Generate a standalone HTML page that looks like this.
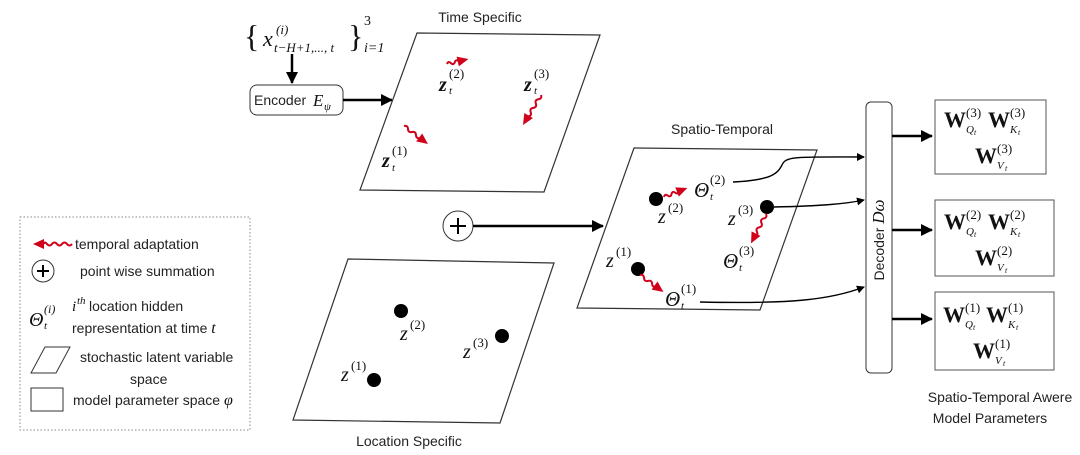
<!DOCTYPE html>
<html><head><meta charset="utf-8"><style>
html,body{margin:0;padding:0;background:#fff;}
svg{display:block;}
.s{font-family:"Liberation Sans",sans-serif;font-size:14px;fill:#222;}
.m{font-family:"Liberation Serif",serif;font-style:italic;fill:#111;}
.b{font-family:"Liberation Serif",serif;font-weight:bold;fill:#111;}
.bi{font-family:"Liberation Serif",serif;font-weight:bold;font-style:italic;fill:#111;}
.r{font-family:"Liberation Serif",serif;fill:#111;}
.w{stroke:#d0021b;stroke-width:2;fill:none;}
.h{fill:#d0021b;}
</style></head><body>
<svg width="1080" height="455" viewBox="0 0 1080 455" xmlns="http://www.w3.org/2000/svg">
<defs>
<marker id="ah" markerWidth="8" markerHeight="8" refX="7" refY="4" orient="auto" markerUnits="userSpaceOnUse"><path d="M0,0 L8,4 L0,8 z" fill="#000"/></marker>
<marker id="ahb" markerWidth="12" markerHeight="12" refX="11" refY="6" orient="auto" markerUnits="userSpaceOnUse"><path d="M0,0 L12,6 L0,12 z" fill="#000"/></marker>
</defs>

<!-- input -->
<text x="244" y="47" class="r" font-size="32">{</text>
<text x="263" y="46" class="m" font-size="22">x</text>
<text x="276" y="34" class="m" font-size="13">(i)</text>
<text x="274" y="52" class="m" font-size="13">t−H+1,..., t</text>
<text x="348" y="47" class="r" font-size="32">}</text>
<text x="364" y="25" class="r" font-size="14">3</text>
<text x="364" y="52" class="m" font-size="14">i=1</text>
<line x1="292" y1="54" x2="292" y2="83" stroke="#000" stroke-width="2.5" marker-end="url(#ahb)"/>
<rect x="250" y="85" width="93" height="30" rx="7" fill="#fff" stroke="#333" stroke-width="1"/>
<text x="254" y="105" class="s">Encoder</text>
<text x="313" y="106" class="m" font-size="17">E</text>
<text x="324" y="110" class="m" font-size="11">ψ</text>
<line x1="343" y1="100" x2="392" y2="100" stroke="#000" stroke-width="2.5" marker-end="url(#ahb)"/>

<!-- time specific -->
<text x="480" y="22" class="s" text-anchor="middle">Time Specific</text>
<polygon points="417,33 600,35 544,192 360,190" fill="#fff" stroke="#333" stroke-width="1.2"/>
<g transform="translate(447,64) rotate(-13)"><path class="w" d="M0,0 q2,-3 4,0 t4,0 t4,0"/><polygon class="h" points="11,-5 22,0 11,5"/></g>
<g transform="translate(541,95) rotate(121)"><path class="w" d="M0,0 q2.5,-3 5,0 t5,0 t5,0 t5,0 t5,0"/><polygon class="h" points="24,-5 35,0 24,5"/></g>
<g transform="translate(404,126) rotate(37)"><path class="w" d="M0,0 q2.5,-3 5,0 t5,0 t5,0 t5,0"/><polygon class="h" points="19,-5 30,0 19,5"/></g>
<text x="439" y="91" class="bi" font-size="20">z</text><text x="449" y="78" class="r" font-size="13">(2)</text><text x="449" y="94" class="m" font-size="11">t</text>
<text x="524" y="91" class="bi" font-size="20">z</text><text x="534" y="78" class="r" font-size="13">(3)</text><text x="534" y="94" class="m" font-size="11">t</text>
<text x="382" y="167" class="bi" font-size="20">z</text><text x="392" y="155" class="r" font-size="13">(1)</text><text x="392" y="171" class="m" font-size="11">t</text>

<!-- plus -->
<circle cx="458" cy="226" r="15" fill="#fff" stroke="#333" stroke-width="1"/>
<line x1="450" y1="226" x2="466" y2="226" stroke="#000" stroke-width="2"/>
<line x1="458" y1="218" x2="458" y2="234" stroke="#000" stroke-width="2"/>
<line x1="473" y1="226" x2="603" y2="226" stroke="#000" stroke-width="2.5" marker-end="url(#ahb)"/>

<!-- location specific -->
<polygon points="348,259 554,263 500,423 293,420" fill="#fff" stroke="#333" stroke-width="1.2"/>
<circle cx="401" cy="311" r="7" fill="#000"/>
<circle cx="502" cy="336" r="7" fill="#000"/>
<circle cx="374" cy="380" r="7" fill="#000"/>
<text x="400" y="340" class="m" font-size="20">z</text><text x="410" y="329" class="r" font-size="13">(2)</text>
<text x="463" y="358" class="m" font-size="20">z</text><text x="473" y="347" class="r" font-size="13">(3)</text>
<text x="341" y="381" class="m" font-size="20">z</text><text x="351" y="370" class="r" font-size="13">(1)</text>
<text x="409" y="446" class="s" text-anchor="middle">Location Specific</text>

<!-- legend -->
<rect x="20" y="217" width="230" height="213" fill="none" stroke="#888" stroke-width="1" stroke-dasharray="1.5,2"/>
<g transform="translate(72,244) rotate(180)"><path class="w" d="M0,0 q2.5,-3 5,0 t5,0 t5,0 t5,0 t5,0 t3,0"/><polygon class="h" points="28,-5 39,0 28,5"/></g>
<text x="75" y="249" class="s">temporal adaptation</text>
<circle cx="43" cy="271" r="11" fill="#fff" stroke="#333"/>
<line x1="37" y1="271" x2="49" y2="271" stroke="#000" stroke-width="2"/>
<line x1="43" y1="265" x2="43" y2="277" stroke="#000" stroke-width="2"/>
<text x="80" y="276" class="s">point wise summation</text>
<text x="29" y="326" class="m" font-size="20">Θ</text><text x="44" y="313" class="m" font-size="12">(i)</text><text x="44" y="329" class="m" font-size="11">t</text>
<text x="72" y="311" class="m" font-size="15">i</text><text x="77" y="304" class="m" font-size="11">th</text>
<text x="89" y="311" class="s">location hidden</text>
<text x="72" y="333" class="s">representation at time <tspan class="m" font-size="16">t</tspan></text>
<polygon points="45,347 70,347 56,373 31,373" fill="#fff" stroke="#333"/>
<text x="80" y="362" class="s">stochastic latent variable</text>
<text x="130" y="384" class="s">space</text>
<rect x="31" y="388" width="32" height="23" fill="#fff" stroke="#333"/>
<text x="73" y="405" class="s">model parameter space <tspan class="m" font-size="16">φ</tspan></text>

<!-- spatio-temporal -->
<text x="722" y="134" class="s" text-anchor="middle">Spatio-Temporal</text>
<polygon points="634,148 817,150 760,310 577,308" fill="#fff" stroke="#333" stroke-width="1.2"/>
<circle cx="656" cy="199" r="7" fill="#000"/>
<circle cx="767" cy="207" r="7" fill="#000"/>
<circle cx="638" cy="269" r="7" fill="#000"/>
<g transform="translate(664,197) rotate(-21)"><path class="w" d="M0,0 q2,-3 4,0 t4,0 t4,0 t3,0"/><polygon class="h" points="14,-5 25,0 14,5"/></g>
<g transform="translate(766,214) rotate(117)"><path class="w" d="M0,0 q2.5,-3 5,0 t5,0 t5,0 t5,0 t3,0"/><polygon class="h" points="22,-5 33,0 22,5"/></g>
<g transform="translate(640,275) rotate(36)"><path class="w" d="M0,0 q2.5,-3 5,0 t5,0 t5,0 t4,0"/><polygon class="h" points="18,-5 29,0 18,5"/></g>
<text x="694" y="197" class="m" font-size="21">Θ</text><text x="710" y="184" class="r" font-size="13">(2)</text><text x="710" y="200" class="m" font-size="11">t</text>
<text x="658" y="223" class="m" font-size="20">z</text><text x="668" y="212" class="r" font-size="13">(2)</text>
<text x="728" y="225" class="m" font-size="20">z</text><text x="738" y="214" class="r" font-size="13">(3)</text>
<text x="723" y="268" class="m" font-size="21">Θ</text><text x="739" y="255" class="r" font-size="13">(3)</text><text x="739" y="271" class="m" font-size="11">t</text>
<text x="606" y="267" class="m" font-size="20">z</text><text x="616" y="256" class="r" font-size="13">(1)</text>
<text x="665" y="306" class="m" font-size="21">Θ</text><text x="681" y="293" class="r" font-size="13">(1)</text><text x="681" y="309" class="m" font-size="11">t</text>

<path d="M733,182 C775,180 778,172 782,165 C786,156 795,157 864,157" stroke="#000" stroke-width="1.4" fill="none" marker-end="url(#ah)"/>
<path d="M774,207 C820,206 845,204 864,200" stroke="#000" stroke-width="1.4" fill="none" marker-end="url(#ah)"/>
<path d="M700,302 C790,304 830,300 864,287" stroke="#000" stroke-width="1.4" fill="none" marker-end="url(#ah)"/>

<!-- decoder -->
<rect x="866" y="102" width="26" height="271" rx="5" fill="#fff" stroke="#333" stroke-width="1"/>
<text transform="translate(884,240) rotate(-90)" class="s" text-anchor="middle">Decoder <tspan class="m" font-size="17">Dω</tspan></text>
<line x1="892" y1="136" x2="932" y2="136" stroke="#000" stroke-width="2.5" marker-end="url(#ahb)"/>
<line x1="892" y1="230" x2="932" y2="230" stroke="#000" stroke-width="2.5" marker-end="url(#ahb)"/>
<line x1="892" y1="319" x2="932" y2="319" stroke="#000" stroke-width="2.5" marker-end="url(#ahb)"/>

<!-- output boxes -->
<g>
<rect x="935" y="100" width="111" height="74" fill="#fff" stroke="#555"/>
<text x="944" y="127" class="b" font-size="22">W</text><text x="966" y="117" class="r" font-size="13">(3)</text><text x="966" y="133" class="m" font-size="11">Q</text><text x="974" y="135" class="m" font-size="8">t</text>
<text x="988" y="127" class="b" font-size="22">W</text><text x="1010" y="117" class="r" font-size="13">(3)</text><text x="1010" y="133" class="m" font-size="11">K</text><text x="1018" y="135" class="m" font-size="8">t</text>
<text x="975" y="163" class="b" font-size="22">W</text><text x="997" y="153" class="r" font-size="13">(3)</text><text x="997" y="169" class="m" font-size="11">V</text><text x="1005" y="171" class="m" font-size="8">t</text>
</g>
<g>
<rect x="935" y="200" width="119" height="76" fill="#fff" stroke="#555"/>
<text x="944" y="229" class="b" font-size="22">W</text><text x="966" y="219" class="r" font-size="13">(2)</text><text x="966" y="235" class="m" font-size="11">Q</text><text x="974" y="237" class="m" font-size="8">t</text>
<text x="988" y="229" class="b" font-size="22">W</text><text x="1010" y="219" class="r" font-size="13">(2)</text><text x="1010" y="235" class="m" font-size="11">K</text><text x="1018" y="237" class="m" font-size="8">t</text>
<text x="975" y="265" class="b" font-size="22">W</text><text x="997" y="255" class="r" font-size="13">(2)</text><text x="997" y="271" class="m" font-size="11">V</text><text x="1005" y="273" class="m" font-size="8">t</text>
</g>
<g>
<rect x="935" y="292" width="119" height="78" fill="#fff" stroke="#555"/>
<text x="943" y="322" class="b" font-size="22">W</text><text x="965" y="312" class="r" font-size="13">(1)</text><text x="965" y="328" class="m" font-size="11">Q</text><text x="973" y="330" class="m" font-size="8">t</text>
<text x="986" y="322" class="b" font-size="22">W</text><text x="1008" y="312" class="r" font-size="13">(1)</text><text x="1008" y="328" class="m" font-size="11">K</text><text x="1016" y="330" class="m" font-size="8">t</text>
<text x="973" y="358" class="b" font-size="22">W</text><text x="995" y="348" class="r" font-size="13">(1)</text><text x="995" y="364" class="m" font-size="11">V</text><text x="1003" y="366" class="m" font-size="8">t</text>
</g>
<text x="1000" y="402" class="s" text-anchor="middle">Spatio-Temporal Awere</text>
<text x="990" y="423" class="s" text-anchor="middle">Model Parameters</text>
</svg>
</body></html>
